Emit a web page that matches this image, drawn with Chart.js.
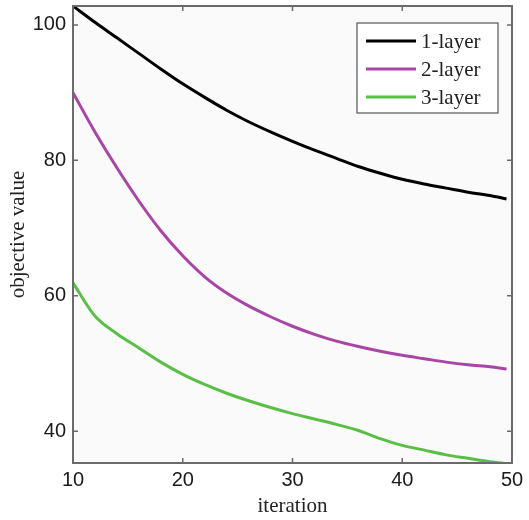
<!DOCTYPE html>
<html><head><meta charset="utf-8">
<script src="https://cdn.jsdelivr.net/npm/chart.js@4/dist/chart.umd.min.js"></script>
<style>html,body{margin:0;padding:0;background:#fff;} canvas{display:block;}</style>
</head><body>
<canvas id="c" width="529" height="520"></canvas>
<script>
const iterations = [10,12,14,16,18,20,22,24,26,28,30,32,34,36,38,40,42,44,46,48,49.5];
const layer1 = [102.8,100.4,98.1,95.8,93.5,91.3,89.3,87.4,85.7,84.2,82.8,81.5,80.3,79.1,78.1,77.2,76.5,75.9,75.3,74.8,74.3];
const layer2 = [90.0,84.2,78.9,74.0,69.6,65.9,62.8,60.4,58.5,56.9,55.5,54.3,53.3,52.5,51.8,51.2,50.7,50.2,49.8,49.5,49.2];
const layer3 = [61.9,57.0,54.4,52.3,50.2,48.4,46.9,45.6,44.5,43.5,42.6,41.8,41.0,40.1,38.9,37.9,37.2,36.5,36.0,35.5,35.2];
const seriesNames = ['1-layer','2-layer','3-layer'];
const seriesColors = ['#000000','#a845a6','#5bbf47'];
const xTicks = [10,20,30,40,50];
const yTicks = [40,60,80,100];
const xTitle = 'iteration';
const yTitle = 'objective value';

const serif = 'Liberation Serif';
const sans = 'Liberation Sans';

const framePlugin = {
  id: 'frame',
  beforeDraw(chart) {
    const {ctx, chartArea: a} = chart;
    ctx.save();
    ctx.fillStyle = '#fafafa';
    ctx.fillRect(a.left, a.top, a.right - a.left, a.bottom - a.top);
    ctx.restore();
  },
  afterDatasetsDraw(chart) {
    const {ctx, chartArea: a, scales} = chart;
    ctx.save();
    ctx.strokeStyle = '#6b6b6b';
    ctx.lineWidth = 2;
    ctx.strokeRect(a.left, a.top, a.right - a.left, a.bottom - a.top);
    ctx.lineWidth = 1.5;
    const tl = 5;
    ctx.beginPath();
    xTicks.forEach(v => {
      const px = scales.x.getPixelForValue(v);
      ctx.moveTo(px, a.bottom); ctx.lineTo(px, a.bottom - tl);
      ctx.moveTo(px, a.top); ctx.lineTo(px, a.top + tl);
    });
    yTicks.forEach(v => {
      const py = scales.y.getPixelForValue(v);
      ctx.moveTo(a.left, py); ctx.lineTo(a.left + tl, py);
      ctx.moveTo(a.right, py); ctx.lineTo(a.right - tl, py);
    });
    ctx.stroke();

    // legend
    const bx = 357, by = 23, bw = 141, bh = 90;
    ctx.fillStyle = '#ffffff';
    ctx.fillRect(bx, by, bw, bh);
    ctx.strokeStyle = '#555';
    ctx.lineWidth = 1.2;
    ctx.strokeRect(bx, by, bw, bh);
    chart.data.datasets.forEach((ds, i) => {
      const y = by + 18 + i * 28;
      ctx.strokeStyle = ds.borderColor;
      ctx.lineWidth = 3;
      ctx.beginPath();
      ctx.moveTo(bx + 9, y); ctx.lineTo(bx + 59, y);
      ctx.stroke();
      ctx.fillStyle = '#222';
      ctx.font = '21px "' + serif + '"';
      ctx.textBaseline = 'middle';
      ctx.textAlign = 'left';
      ctx.fillText(ds.label, bx + 64, y + 1);
    });
    ctx.restore();
  }
};

const datasets = [layer1, layer2, layer3].map((vals, i) => ({
  label: seriesNames[i],
  data: iterations.map((x, j) => ({x: x, y: vals[j]})),
  borderColor: seriesColors[i],
  backgroundColor: seriesColors[i],
  borderWidth: 3,
  pointRadius: 0,
  fill: false,
  cubicInterpolationMode: 'monotone'
}));

new Chart(document.getElementById('c'), {
  type: 'line',
  data: { datasets },
  options: {
    responsive: false,
    animation: false,
    devicePixelRatio: 1,
    layout: { padding: { top: 6, right: 17, bottom: 0, left: 0 } },
    plugins: { legend: { display: false }, tooltip: { enabled: false } },
    scales: {
      x: {
        type: 'linear', min: 10, max: 50,
        afterBuildTicks: s => { s.ticks = xTicks.map(v => ({value: v})); },
        afterFit: s => { s.height = 57; s.paddingLeft = 0; s.paddingRight = 0; },
        grid: { display: false, drawTicks: false },
        border: { display: false },
        ticks: { autoSkip: false, maxRotation: 0, padding: 5, color: '#1a1a1a', font: { family: sans, size: 20 } },
        title: { display: true, text: xTitle, color: '#222', font: { family: serif, size: 21 }, padding: { top: 0, bottom: 1 } }
      },
      y: {
        type: 'linear', min: 35.3, max: 102.8,
        afterBuildTicks: s => { s.ticks = yTicks.map(v => ({value: v})); },
        afterFit: s => { s.width = 73; s.paddingTop = 0; s.paddingBottom = 0; },
        grid: { display: false, drawTicks: false },
        border: { display: false },
        ticks: { padding: 7, color: '#1a1a1a', font: { family: sans, size: 20 } },
        title: { display: true, text: yTitle, color: '#222', font: { family: serif, size: 21 }, padding: { top: 6, bottom: 0 } }
      }
    }
  },
  plugins: [framePlugin]
});
</script>
</body></html>
